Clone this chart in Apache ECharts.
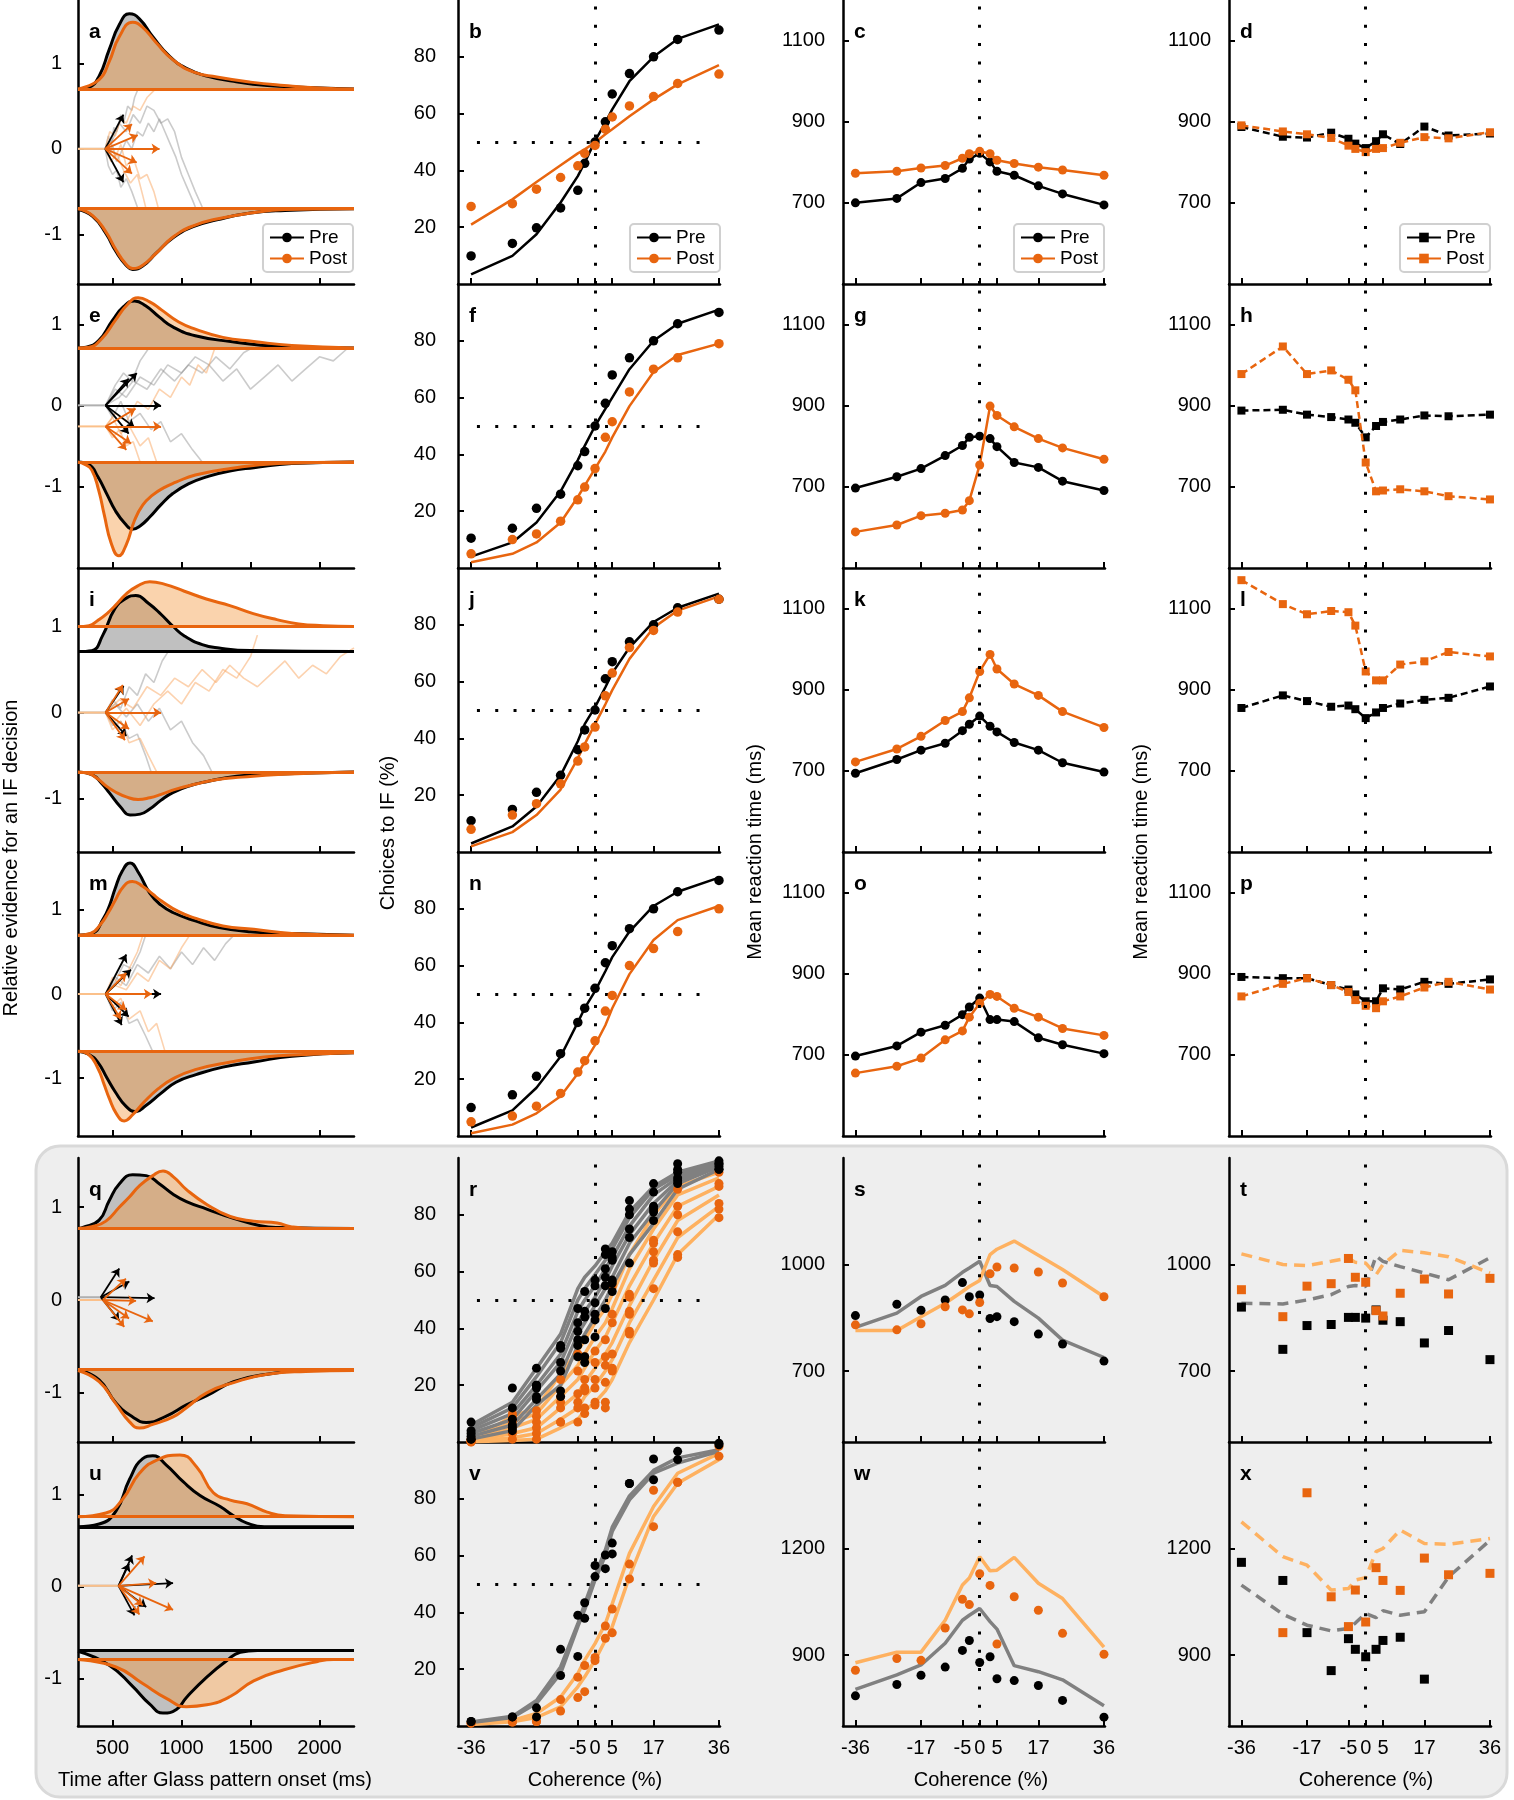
<!DOCTYPE html>
<html><head><meta charset="utf-8">
<script src="https://cdn.jsdelivr.net/npm/echarts@6/dist/echarts.min.js"></script>
<style>html,body{margin:0;padding:0;background:#fff}#chart{width:1514px;height:1800px}</style>
</head><body><div id="chart"></div>
<script>
// ---------------- DATA ----------------
const COH = [-36,-24,-17,-10,-5,-3,0,3,5,10,17,24,36];
const COH_TICKS = [-36,-17,-5,0,5,17,36];
const TIME_TICKS = [500,1000,1500,2000];
const EV_TICKS = [-1,0,1];
const CHOICE_TICKS = [20,40,60,80];
const RT_TICKS_TOP = [700,900,1100];
const RT_TICKS_S = [700,1000];
const RT_TICKS_W = [900,1200];

// Panel b
const bPreDots = [9.9,14.3,19.8,26.8,33,42.5,50,57.1,66.9,74.1,80,86.1,89.4];
const bPostDots = [27.3,28.3,33.4,37.5,41.6,46,48.8,54.5,58.8,62.7,66,70.6,73.9];
const bPreFit = [3.4,9.9,17.5,28.7,38,42.7,50.4,56.8,61.5,71.4,80,86.3,91.4];
const bPostFit = [20.9,29.8,35.9,41.8,46,47.4,49.8,52.7,54.5,59.1,65,70.3,77.1];
// Panel f
const fPreDots = [10.5,14,21,26,36,41,50,58,68,74,80,86,90];
const fPostDots = [5,10,12,16.5,24,28.5,35,46,51.5,62,70,74,79];
const fPreFit = [4,9,16,27,38,43,50,56,60,70,80,86,91];
const fPostFit = [2,5,9,16,25,29,35,41,46,57,69,75,79];
// Panel j
const jPreDots = [11,15,21,27,36,43,50,61,67,74,80,86,89];
const jPostDots = [8,13,17,24,32,37,44,55,63,72,78,84.5,89];
const jPreFit = [3,9,16,27,39,45,51,58,63,72,81,86,91];
const jPostFit = [2,7,13,22,33,38,45,52,57,68,79,85,90];
// Panel n
const nPreDots = [10,14.5,21,29,40,45,52,61,67,73,80,86,90];
const nPostDots = [5,7,10.5,15,22.5,26.5,33.5,44,49.5,60,66,72,80];
const nPreFit = [3,9,17,28,40,45,51,58,63,72,81,86,91];
const nPostFit = [1,4,8,14,22,26,32,39,45,57,69,76,81];

// RT panels (mean reaction time)
const cPre = [700,711,750,760,785,808,822,801,778,768,742,722,695];
const cPost = [773,778,786,792,810,821,827,821,805,797,788,781,768];
const dPre = [887,863,861,873,858,846,835,852,869,845,888,866,871];
const dPost = [891,876,869,860,841,833,825,833,835,848,862,859,874];
const gPre = [697,725,745,777,802,822,825,819,799,760,748,714,691];
const gPost = [589,606,629,635,643,666,754,899,876,848,819,796,768];
const hPre = [888,890,878,872,866,858,822,850,860,866,876,874,878];
const hPost = [978,1046,978,987,964,938,760,689,691,694,689,677,669];
const kPre = [694,728,751,768,799,815,835,810,796,770,751,720,697];
const kPost = [722,754,785,824,846,880,945,987,951,914,886,846,807];
const lPre = [855,886,872,858,861,852,830,844,855,866,875,880,908];
const lPost = [1170,1111,1086,1094,1091,1058,945,923,923,962,970,993,982];
const oPre = [697,722,756,773,799,818,840,787,787,782,742,725,703];
const oPost = [655,672,692,737,759,793,827,849,844,815,793,765,748];
const pPre = [892,889,889,872,861,849,832,832,864,861,880,875,886];
const pPost = [844,875,889,872,855,835,821,815,832,844,866,880,861];

// Panel r (several sessions)
const rPreFit1 = [6,14,26,38,54,58,62,67,70,81,90,95,99];
const rPreFit2 = [5,12,23,35,50,54,59,64,68,79,89,94,98.5];
const rPreFit3 = [4,10,20,31,46,50,55,61,65,76,87,93,98];
const rPreFit4 = [3,8,18,28,42,46,51,57,62,73,84,92,97.5];
const rPreFit5 = [2,6,15,24,38,42,48,54,58,70,81,91,97];
const rPreFit6 = [1,4,13,20,34,38,44,50,55,66,77,89,96];
const rPostFit1 = [1,9,12,24,32,36,42,47,52,66,80,90,95];
const rPostFit2 = [0.8,7,10,20,27,31,37,42,47,61,75,87,93];
const rPostFit3 = [0.6,5,8,16,22,26,32,37,42,55,70,83,90];
const rPostFit4 = [0.4,3,5,12,17,21,26,31,35,48,64,78,87];
const rPostFit5 = [0.2,1.5,3,8,12,16,20,25,29,42,57,72,83];
const rPostFit6 = [0.1,0.5,1,5,8,11,14,18,22,35,50,66,80];
// dots per coherence level (one value per session)
const rPreDots = [[7,4,3,1,2,1],[19,12,8,6,5,4],[26,20,19,16,20,15],[34,33,28,25,18,16],[47,42,39,36,34,30],[53,46,44,36,30,28],[57,55,49,45,43,37],[68,66,61,58,55,47],[67,65,64,57,53,56],[85,82,80,75,72,63],[91,88,83,82,81,78],[98,96,95,93,92,91],[99,98,98,97,96,96]];
const rPostDots = [[1,0.5,0.3,0.2,0.1,0],[10,9,7,5,3,1],[11,9,7,5,3,1],[22,16,14,12,7,7],[31,25,17,14,12,7],[30,22,19,18,12,10],[32,28,22,19,14,13],[36,30,27,21,14,12],[55,45,42,31,26,25],[52,51,46,45,39,38],[71,70,67,64,63,54],[89,83,80,74,66,65],[95,91,90,84,82,79]];

// Panel s
const sPreDots = [856,888,871,900,949,909,914,848,853,839,804,776,728];
const sPostDots = [830,816,833,881,872,861,893,974,993,990,979,948,909];
const sPreFit = [823,863,910,941,978,990,1009,941,938,896,849,787,738];
const sPostFit = [814,814,853,891,924,938,955,1028,1043,1066,1026,986,909];
// Panel t
const tPreSq = [880,761,828,831,851,851,849,872,843,839,779,814,732];
const tPostSq = [929,853,939,946,1017,964,950,870,855,919,959,917,961];
const tPreFit = [891,889,900,915,938,941,938,1024,1009,994,976,957,1019];
const tPostFit = [1030,1000,997,1009,1018,1006,1004,971,1000,1040,1033,1022,976];

// Panel v (two sessions)
const vPreDots1 = [1.6,3.2,6.4,27,39,43.4,56.5,60.2,64.4,85.4,94,96.7,99.6];
const vPreDots2 = [1.6,3.2,3.2,17.8,24.5,37.9,52.6,55.4,60.6,85.4,86.7,93.8,99];
const vPostDots1 = [1,1.4,1.6,9.3,17.2,21.3,24.1,35.2,41.2,57,83,85.8,98.5];
const vPostDots2 = [1,1.4,1.6,5.3,10,12.1,23,30.9,32.8,51.8,70.2,85.8,95];
const vPreFit1 = [1.4,3.4,9,20.8,36,43,53,62,70,81,90,94.4,97.3];
const vPreFit2 = [1.2,3,8,18.5,35,41,51.4,60,68.5,79.6,89,92.6,96.7];
const vPostFit1 = [1,2,4.4,10.2,18.5,23.2,29,36,43,60.8,77.3,89,96];
const vPostFit2 = [0.5,1.5,3,6.7,13.8,17.3,23.2,30.2,35,52.6,73.8,85.5,93.8];
// Panel w
const wPreDots = [785,817,843,866,913,941,879,895,833,828,814,772,725];
const wPostDots = [857,890,885,976,1057,1042,1129,1096,931,1064,1026,961,902];
const wPreFit = [803,844,872,933,998,1012,1031,994,973,870,853,830,757];
const wPostFit = [878,908,908,998,1097,1117,1177,1137,1139,1175,1102,1059,922];
// Panel x
const xPreSq = [1161,1110,963,856,946,916,895,916,941,950,832,null,null];
const xPostSq = [null,963,1357,1064,980,1083,993,1146,1110,1082,1173,1126,1130];
const xPreFit = [1097,1015,984,968,975,990,1017,1005,1025,1012,1022,1120,1223];
const xPostFit = [1275,1177,1153,1083,1087,1111,1118,1191,1200,1252,1214,1212,1228];

// Evidence distributions ([time ms, relative evidence])
const aPreUp = [[250,0.70],[330,0.72],[403,0.85],[476,1.16],[549,1.45],[622,1.58],[695,1.52],[792,1.31],[914,1.08],[1036,0.94],[1183,0.85],[1378,0.79],[1622,0.74],[1866,0.72],[2250,0.70]];
const aPostUp = [[250,0.70],[403,0.81],[476,1.02],[549,1.31],[646,1.48],[719,1.42],[817,1.24],[939,1.04],[1085,0.90],[1256,0.84],[1500,0.78],[1744,0.74],[2000,0.71],[2250,0.70]];
const aPreLow = [[250,-0.71],[356,-0.79],[452,-0.99],[525,-1.20],[598,-1.36],[646,-1.41],[719,-1.37],[817,-1.22],[939,-1.04],[1085,-0.91],[1256,-0.83],[1500,-0.75],[1750,-0.72],[2250,-0.70]];
const aPostLow = [[250,-0.70],[356,-0.78],[452,-0.97],[525,-1.18],[598,-1.35],[646,-1.40],[719,-1.36],[817,-1.22],[939,-1.03],[1085,-0.90],[1256,-0.82],[1500,-0.75],[1750,-0.71],[2250,-0.70]];
const ePreUp = [[250,0.71],[310,0.72],[400,0.80],[500,1.05],[580,1.22],[660,1.29],[740,1.23],[840,1.09],[937,0.97],[1100,0.86],[1356,0.79],[1700,0.73],[2250,0.71]];
const ePostUp = [[250,0.71],[330,0.72],[420,0.82],[520,1.05],[610,1.25],[686,1.33],[770,1.28],[855,1.18],[980,1.03],[1105,0.94],[1300,0.84],[1524,0.79],[1800,0.74],[2250,0.71]];
const ePreLow = [[250,-0.70],[330,-0.73],[393,-0.88],[460,-1.10],[520,-1.30],[590,-1.46],[644,-1.53],[700,-1.49],[770,-1.38],[850,-1.23],[937,-1.09],[1050,-0.97],[1189,-0.88],[1350,-0.81],[1524,-0.77],[1800,-0.72],[2250,-0.70]];
const ePostLow = [[250,-0.70],[300,-0.73],[350,-0.80],[400,-1.05],[440,-1.35],[490,-1.70],[545,-1.86],[600,-1.72],[660,-1.42],[720,-1.23],[790,-1.11],[870,-1.02],[960,-0.95],[1100,-0.86],[1356,-0.78],[1700,-0.72],[2250,-0.70]];
const iPreUp = [[250,0.71],[350,0.72],[430,0.90],[518,1.21],[600,1.33],[669,1.36],[760,1.27],[853,1.14],[940,1.00],[1021,0.89],[1150,0.79],[1272,0.75],[1500,0.72],[2250,0.71]];
const iPostUp = [[250,1.00],[330,1.01],[393,1.07],[460,1.15],[518,1.24],[600,1.38],[680,1.47],[770,1.52],[880,1.49],[1021,1.41],[1180,1.32],[1356,1.24],[1520,1.15],[1691,1.08],[1850,1.03],[2026,1.01],[2250,1.00]];
const iPreLow = [[250,-0.69],[350,-0.72],[420,-0.82],[476,-0.93],[560,-1.10],[627,-1.19],[700,-1.18],[770,-1.12],[850,-1.02],[937,-0.93],[1060,-0.85],[1189,-0.80],[1400,-0.74],[1608,-0.72],[2250,-0.69]];
const iPostLow = [[250,-0.69],[330,-0.71],[393,-0.77],[460,-0.86],[518,-0.92],[600,-0.98],[686,-1.01],[770,-0.99],[853,-0.95],[960,-0.89],[1105,-0.83],[1250,-0.78],[1440,-0.75],[1700,-0.72],[2250,-0.69]];
const mPreUp = [[250,0.70],[350,0.72],[435,0.90],[480,1.06],[518,1.25],[570,1.46],[627,1.56],[690,1.44],[770,1.20],[850,1.06],[937,0.97],[1100,0.87],[1272,0.79],[1500,0.74],[1800,0.72],[2250,0.70]];
const mPostUp = [[250,0.70],[340,0.72],[418,0.84],[470,0.97],[518,1.11],[580,1.28],[644,1.34],[720,1.28],[790,1.19],[853,1.11],[980,0.98],[1105,0.90],[1300,0.81],[1524,0.77],[1800,0.72],[2250,0.70]];
const mPreLow = [[250,-0.68],[330,-0.72],[393,-0.81],[460,-1.00],[518,-1.16],[600,-1.34],[669,-1.40],[740,-1.33],[853,-1.18],[960,-1.05],[1105,-0.96],[1300,-0.87],[1524,-0.81],[1800,-0.74],[2250,-0.70]];
const mPostLow = [[250,-0.68],[320,-0.71],[393,-0.88],[440,-1.08],[476,-1.24],[530,-1.43],[585,-1.51],[650,-1.43],[727,-1.29],[830,-1.13],[937,-1.01],[1100,-0.90],[1356,-0.81],[1600,-0.75],[1900,-0.72],[2250,-0.70]];
const qPreUp = [[250,0.77],[281,0.78],[403,0.86],[476,1.07],[549,1.25],[646,1.35],[744,1.34],[841,1.25],[939,1.14],[1036,1.06],[1183,0.98],[1377,0.88],[1572,0.80],[1700,0.78],[2250,0.77]];
const qPostUp = [[250,0.77],[350,0.79],[452,0.85],[549,1.00],[622,1.11],[695,1.23],[792,1.34],[866,1.39],[939,1.33],[1036,1.19],[1183,1.03],[1353,0.90],[1523,0.85],[1694,0.83],[1792,0.79],[1950,0.77],[2250,0.77]];
const qPreLow = [[250,-0.75],[403,-0.86],[525,-1.11],[646,-1.26],[744,-1.32],[890,-1.25],[1036,-1.13],[1183,-1.03],[1378,-0.88],[1621,-0.80],[1900,-0.76],[2250,-0.75]];
const qPostLow = [[250,-0.76],[403,-0.88],[525,-1.12],[622,-1.31],[695,-1.38],[792,-1.34],[939,-1.26],[1036,-1.16],[1183,-1.00],[1378,-0.89],[1621,-0.80],[1900,-0.77],[2250,-0.76]];
const uPreUp = [[250,0.65],[403,0.68],[525,0.82],[622,1.16],[719,1.39],[792,1.42],[890,1.32],[1012,1.14],[1134,0.99],[1280,0.87],[1377,0.77],[1475,0.69],[1600,0.65],[2250,0.65]];
const uPostUp = [[250,0.76],[452,0.80],[573,0.95],[695,1.23],[817,1.37],[988,1.43],[1110,1.30],[1231,1.02],[1353,0.94],[1475,0.90],[1621,0.81],[1750,0.77],[2250,0.76]];
const uPreLow = [[250,-0.70],[476,-0.85],[646,-1.08],[768,-1.27],[866,-1.37],[963,-1.33],[1036,-1.20],[1183,-0.98],[1329,-0.80],[1426,-0.71],[1550,-0.69],[2250,-0.69]];
const uPostLow = [[250,-0.79],[525,-0.87],[719,-1.05],[890,-1.21],[1036,-1.30],[1183,-1.28],[1353,-1.19],[1523,-1.02],[1743,-0.90],[1987,-0.81],[2100,-0.79],[2250,-0.79]];
// Decision bounds (baselines): [pre upper, post upper, pre lower, post lower]
const aBounds = [0.70,0.70,-0.70,-0.70];
const eBounds = [0.71,0.71,-0.70,-0.70];
const iBounds = [0.71,1.00,-0.69,-0.69];
const mBounds = [0.70,0.70,-0.68,-0.68];
const qBounds = [0.77,0.77,-0.75,-0.75];
const uBounds = [0.65,0.76,-0.69,-0.79];
// Drift arrows: start points and arrow tips
const aPreStart=[447,0], aPostStart=[447,0];
const aPreArrows=[[579,0.40],[579,-0.39]];
const aPostArrows=[[641,0.29],[683,0.16],[841,0],[676,-0.16],[641,-0.29]];
const ePreStart=[450,0], ePostStart=[450,-0.26];
const ePreArrows=[[676,0.40],[617,0.33],[852,0],[659,-0.27],[617,-0.35]];
const ePostArrows=[[667,-0.04],[852,-0.26],[634,-0.47],[600,-0.55]];
const iPreStart=[450,0], iPostStart=[450,0];
const iPreArrows=[[580,0.31],[600,-0.27]];
const iPostArrows=[[575,0.32],[620,0.16],[852,0],[620,-0.19],[590,-0.32]];
const mPreStart=[450,0], mPostStart=[450,0];
const mPreArrows=[[600,0.47],[634,0.29],[852,0],[617,-0.27],[567,-0.37]];
const mPostArrows=[[600,0.25],[785,0],[600,-0.19],[560,-0.30]];
const qPreStart=[415,0.03], qPostStart=[430,0];
const qPreArrows=[[549,0.34],[622,0.20],[805,0.02],[549,-0.22]];
const qPostArrows=[[597,0.23],[671,-0.01],[792,-0.23],[585,-0.29],[620,-0.20]];
const uPreStart=[544,0.01], uPostStart=[544,0.01];
const uPreArrows=[[642,0.34],[939,0.04],[659,-0.31],[744,-0.22],[620,0.25]];
const uPostArrows=[[732,0.33],[817,0.04],[939,-0.25],[695,-0.30],[720,-0.20]];
// Example single-trial evidence traces
const aTracesPre = [
  [[447,0],[470,0.15],[490,0.05],[510,0.25],[530,0.2],[560,0.4],[580,0.3],[610,0.5],[640,0.45],[660,0.6],[680,0.68]],
  [[447,0],[480,-0.1],[500,0.05],[530,-0.15],[560,-0.05],[600,0.1],[640,0.0],[680,0.2],[720,0.15],[760,0.3],[800,0.2],[840,0.35],[880,0.2],[920,0.05],[960,-0.1],[1000,-0.3],[1040,-0.45],[1080,-0.6],[1100,-0.68]],
  [[447,0],[470,-0.2],[500,-0.3],[530,-0.25],[560,-0.45],[600,-0.35],[640,-0.5],[680,-0.68]],
  [[447,0],[500,0.1],[550,0.3],[600,0.2],[650,0.4],[700,0.3],[750,0.5],[800,0.45],[850,0.3],[900,0.35],[950,0.2],[1000,-0.1],[1050,-0.3],[1100,-0.5],[1150,-0.68]]];
const aTracesPost = [
  [[447,0],[480,0.1],[520,-0.1],[560,0.05],[600,-0.2],[650,-0.1],[700,-0.35],[750,-0.3],[800,-0.5],[830,-0.68]],
  [[447,0],[480,0.2],[520,0.15],[560,0.35],[600,0.3],[650,0.5],[700,0.45],[750,0.6],[800,0.68]],
  [[447,0],[490,-0.15],[530,-0.05],[580,-0.25],[630,-0.4],[680,-0.3],[720,-0.55],[740,-0.68]]];
const eTracesPre = [
  [[450,0],[520,0.2],[600,0.1],[700,0.35],[800,0.25],[900,0.5],[1000,0.4],[1100,0.6],[1200,0.5],[1300,0.3],[1400,0.45],[1500,0.2],[1600,0.35],[1700,0.5],[1800,0.3],[1900,0.45],[2000,0.6],[2100,0.55],[2200,0.7]],
  [[450,0],[500,-0.15],[560,0.05],[620,-0.2],[700,-0.1],[780,-0.3],[850,-0.2],[920,-0.45],[1000,-0.35],[1080,-0.55],[1150,-0.7]],
  [[450,0],[520,0.25],[580,0.4],[640,0.3],[700,0.55],[760,0.7]],
  [[450,0],[550,0.1],[650,0.3],[750,0.2],[850,0.45],[950,0.3],[1050,0.5],[1150,0.4],[1250,0.6],[1350,0.45],[1450,0.65],[1500,0.7]]];
const eTracesPost = [
  [[450,-0.26],[500,-0.4],[550,-0.3],[600,-0.5],[650,-0.45],[700,-0.7]],
  [[450,-0.26],[520,-0.1],[600,-0.2],[680,0.05],[760,-0.05],[840,0.2],[920,0.1],[1000,0.35],[1060,0.25],[1120,0.5],[1180,0.4],[1240,0.7]],
  [[450,-0.26],[500,-0.15],[560,-0.35],[620,-0.25],[700,-0.5],[760,-0.4],[820,-0.7]]];
const iTracesPre = [
  [[450,0],[500,0.15],[560,0.05],[620,0.3],[680,0.2],[740,0.45],[800,0.35],[860,0.6],[900,0.7]],
  [[450,0],[500,-0.15],[560,-0.1],[620,-0.3],[680,-0.25],[740,-0.5],[780,-0.69]],
  [[450,0],[520,0.1],[600,-0.05],[680,0.1],[760,-0.1],[840,0.05],[920,-0.2],[1000,-0.1],[1080,-0.35],[1160,-0.5],[1220,-0.69]]];
const iTracesPost = [
  [[450,0],[550,0.15],[650,0.05],[750,0.3],[850,0.2],[950,0.4],[1050,0.3],[1150,0.5],[1250,0.35],[1350,0.55],[1450,0.4],[1550,0.3],[1650,0.45],[1750,0.6],[1850,0.4],[1950,0.55],[2050,0.45],[2150,0.65],[2250,0.75]],
  [[450,0],[520,-0.1],[600,0.05],[700,-0.15],[800,0.1],[900,0.25],[1000,0.1],[1100,0.35],[1200,0.25],[1300,0.5],[1400,0.4],[1500,0.65],[1550,0.9]],
  [[450,0],[500,-0.2],[560,-0.1],[620,-0.35],[700,-0.3],[760,-0.5],[820,-0.69]]];
const mTracesPre = [
  [[450,0],[520,0.2],[600,0.1],[680,0.35],[760,0.25],[840,0.45],[920,0.3],[1000,0.5],[1080,0.35],[1160,0.55],[1240,0.4],[1320,0.6],[1380,0.7]],
  [[450,0],[500,-0.2],[560,-0.1],[620,-0.35],[680,-0.3],[740,-0.5],[790,-0.68]],
  [[450,0],[520,0.15],[580,0.35],[640,0.3],[700,0.5],[740,0.7]]];
const mTracesPost = [
  [[450,0],[500,-0.15],[560,-0.05],[620,-0.3],[700,-0.2],[760,-0.45],[820,-0.35],[880,-0.68]],
  [[450,0],[520,0.1],[600,0.05],[680,0.25],[760,0.15],[840,0.4],[920,0.3],[1000,0.55],[1060,0.7]],
  [[450,0],[500,0.2],[560,0.1],[620,0.3],[680,0.5],[720,0.7]]];

// ---------------- LAYOUT / STYLE ----------------
const FONT = "'Liberation Sans', Arial, Helvetica, sans-serif";
const BLACK='#000000', ORANGE='#e8650f', LORANGE='#feb160', GRAY='#808080';
const GRAYFILL='#c0c0c0', ORFILL='rgba(244,150,60,0.42)';
const TOPS=[0,284,568,852,1158,1442], H=284;
const COLS=[{l:78,w:276,min:250,max:2250},{l:458,w:262,min:-39.8,max:36.3},{l:843,w:262,min:-39.6,max:36.3},{l:1229,w:262,min:-39.6,max:36.3}];
const EV_RANGE=[[-1.58,1.74],[-2.01,1.5],[-1.62,1.68],[-1.69,1.69],[-1.53,1.53],[-1.51,1.57]];
const RT_RANGE=[[500,1200],[500,1200],[500,1200],[500,1200],[500,1300],[700,1500]];
const RT_TICKS=[RT_TICKS_TOP,RT_TICKS_TOP,RT_TICKS_TOP,RT_TICKS_TOP,RT_TICKS_S,RT_TICKS_W];

const grids=[], xAxes=[], yAxes=[], S=[];
for(let r=0;r<6;r++) for(let c=0;c<4;c++){
  const i=r*4+c;
  grids.push({left:COLS[c].l, top:TOPS[r], width:COLS[c].w, height:H, show:false});
  const xt = c===0?TIME_TICKS:COH_TICKS;
  xAxes.push({gridIndex:i, type:'value', min:COLS[c].min, max:COLS[c].max,
    axisLine:{show:true,onZero:false,lineStyle:{color:'#000',width:2.5}},
    axisTick:{show:true,inside:true,length:6,customValues:xt,lineStyle:{color:'#000',width:2}},
    axisLabel:{show:r===5,customValues:xt,fontSize:20,color:'#000',fontFamily:FONT,margin:12,formatter:v=>String(v)},
    splitLine:{show:false}});
  let ymin,ymax,yt,mg;
  if(c===0){ymin=EV_RANGE[r][0];ymax=EV_RANGE[r][1];yt=EV_TICKS;mg=16;}
  else if(c===1){ymin=0;ymax=100;yt=CHOICE_TICKS;mg=22;}
  else {ymin=RT_RANGE[r][0];ymax=RT_RANGE[r][1];yt=RT_TICKS[r];mg=18;}
  yAxes.push({gridIndex:i, type:'value', min:ymin, max:ymax,
    axisLine:{show:true,onZero:false,lineStyle:{color:'#000',width:2.5}},
    axisTick:{show:true,inside:true,length:6,customValues:yt,lineStyle:{color:'#000',width:2}},
    axisLabel:{show:true,customValues:yt,fontSize:20,color:'#000',fontFamily:FONT,margin:mg,formatter:v=>String(v)},
    splitLine:{show:false}});
}
const pts = v => COH.map((c,k)=>[c, v[k]]);
const ax = i => ({xAxisIndex:i, yAxisIndex:i, silent:true, animation:false});
const DOT = {color:'#000',width:3,type:[3,15.3],cap:'butt'};
function refLines(withH){
  const data=[{xAxis:0}];
  if(withH) data.push([{coord:[-34.3,50]},{coord:[33.3,50]}]);
  return {symbol:'none', silent:true, label:{show:false}, lineStyle:DOT, emphasis:{disabled:true}, data};
}
function fitLine(i, vals, color, width, dash, extra){
  return Object.assign({type:'line', ...ax(i), data:pts(vals), symbol:'none', showSymbol:false,
    lineStyle:{color, width, type:dash||'solid'}, itemStyle:{color}, z:3}, extra||{});
}
function dots(i, data, color, sym, size){
  return {type:'scatter', ...ax(i), data, symbol:sym, symbolSize:size, itemStyle:{color, opacity:1}, z:5};
}

// ---- Column 2, rows 1-4: choice fits + dots
[[bPreDots,bPostDots,bPreFit,bPostFit],[fPreDots,fPostDots,fPreFit,fPostFit],[jPreDots,jPostDots,jPreFit,jPostFit],[nPreDots,nPostDots,nPreFit,nPostFit]].forEach((d,r)=>{
  const i=r*4+1;
  S.push(fitLine(i,d[2],BLACK,2.5,null,{markLine:refLines(true)}));
  S.push(fitLine(i,d[3],ORANGE,2.5));
  S.push(dots(i,pts(d[0]),BLACK,'circle',9.5));
  S.push(dots(i,pts(d[1]),ORANGE,'circle',9.5));
});
// ---- Column 3, rows 1-4: RT with circles
[[cPre,cPost],[gPre,gPost],[kPre,kPost],[oPre,oPost]].forEach((d,r)=>{
  const i=r*4+2;
  S.push({type:'line', ...ax(i), name:r===0?'Pre':'', data:pts(d[0]), symbol:'circle', symbolSize:9, showSymbol:true,
    lineStyle:{color:BLACK,width:2.5}, itemStyle:{color:BLACK}, z:3, markLine:refLines(false)});
  S.push({type:'line', ...ax(i), name:r===0?'Post':'', data:pts(d[1]), symbol:'circle', symbolSize:9, showSymbol:true,
    lineStyle:{color:ORANGE,width:2.5}, itemStyle:{color:ORANGE}, z:4});
});
// ---- Column 4, rows 1-4: RT with squares, dashed
[[dPre,dPost],[hPre,hPost],[lPre,lPost],[pPre,pPost]].forEach((d,r)=>{
  const i=r*4+3;
  S.push({type:'line', ...ax(i), name:r===0?'Pre ':'', data:pts(d[0]), symbol:'rect', symbolSize:8, showSymbol:true,
    lineStyle:{color:BLACK,width:2.5,type:[7,4]}, itemStyle:{color:BLACK}, z:3, markLine:refLines(false)});
  S.push({type:'line', ...ax(i), name:r===0?'Post ':'', data:pts(d[1]), symbol:'rect', symbolSize:8, showSymbol:true,
    lineStyle:{color:ORANGE,width:2.5,type:[7,4]}, itemStyle:{color:ORANGE}, z:4});
});
// ---- Panel r
(function(){
  const i=4*4+1;
  const gl=[rPreFit1,rPreFit2,rPreFit3,rPreFit4,rPreFit5,rPreFit6];
  const ol=[rPostFit1,rPostFit2,rPostFit3,rPostFit4,rPostFit5,rPostFit6];
  ol.forEach((v,k)=>S.push(fitLine(i,v,LORANGE,3.5,null,k===0?{markLine:refLines(true)}:{})));
  gl.forEach(v=>S.push(fitLine(i,v,GRAY,3.5)));
  const bd=[], od=[];
  COH.forEach((c,k)=>{ rPreDots[k].forEach(v=>bd.push([c,v])); rPostDots[k].forEach(v=>od.push([c,v])); });
  S.push(dots(i,od,ORANGE,'circle',9));
  S.push(dots(i,bd,BLACK,'circle',9));
})();
// ---- Panel v
(function(){
  const i=5*4+1;
  S.push(fitLine(i,vPostFit1,LORANGE,3.5,null,{markLine:refLines(true)}));
  S.push(fitLine(i,vPostFit2,LORANGE,3.5));
  S.push(fitLine(i,vPreFit1,GRAY,3.5));
  S.push(fitLine(i,vPreFit2,GRAY,3.5));
  S.push(dots(i,pts(vPostDots1),ORANGE,'circle',9));
  S.push(dots(i,pts(vPostDots2),ORANGE,'circle',9));
  S.push(dots(i,pts(vPreDots1),BLACK,'circle',9));
  S.push(dots(i,pts(vPreDots2),BLACK,'circle',9));
})();
// ---- Panels s, w
[[4,sPreDots,sPostDots,sPreFit,sPostFit],[5,wPreDots,wPostDots,wPreFit,wPostFit]].forEach(d=>{
  const i=d[0]*4+2;
  S.push(fitLine(i,d[3],GRAY,3.5,null,{markLine:refLines(false)}));
  S.push(fitLine(i,d[4],LORANGE,3.5));
  S.push(dots(i,pts(d[1]),BLACK,'circle',9));
  S.push(dots(i,pts(d[2]),ORANGE,'circle',9));
});
// ---- Panels t, x
[[4,tPreSq,tPostSq,tPreFit,tPostFit],[5,xPreSq,xPostSq,xPreFit,xPostFit]].forEach(d=>{
  const i=d[0]*4+3;
  S.push(fitLine(i,d[3],GRAY,3.5,[11,7],{markLine:refLines(false)}));
  S.push(fitLine(i,d[4],LORANGE,3.5,[11,7]));
  S.push(dots(i,pts(d[1]),BLACK,'rect',9));
  S.push(dots(i,pts(d[2]),ORANGE,'rect',9));
});
// ---- Column 1: evidence distributions
const EV_ROWS=[
  [aPreUp,aPostUp,aPreLow,aPostLow,aBounds,aPreStart,aPostStart,aPreArrows,aPostArrows,aTracesPre,aTracesPost],
  [ePreUp,ePostUp,ePreLow,ePostLow,eBounds,ePreStart,ePostStart,ePreArrows,ePostArrows,eTracesPre,eTracesPost],
  [iPreUp,iPostUp,iPreLow,iPostLow,iBounds,iPreStart,iPostStart,iPreArrows,iPostArrows,iTracesPre,iTracesPost],
  [mPreUp,mPostUp,mPreLow,mPostLow,mBounds,mPreStart,mPostStart,mPreArrows,mPostArrows,mTracesPre,mTracesPost],
  [qPreUp,qPostUp,qPreLow,qPostLow,qBounds,qPreStart,qPostStart,qPreArrows,qPostArrows,[],[]],
  [uPreUp,uPostUp,uPreLow,uPostLow,uBounds,uPreStart,uPostStart,uPreArrows,uPostArrows,[],[]]
];
EV_ROWS.forEach((d,r)=>{
  const i=r*4;
  const B=d[4];
  // traces (faint)
  d[9].forEach(tr=>S.push({type:'line',...ax(i),data:tr,symbol:'none',lineStyle:{color:'rgba(140,140,140,0.45)',width:1.6},z:1}));
  d[10].forEach(tr=>S.push({type:'line',...ax(i),data:tr,symbol:'none',lineStyle:{color:'rgba(250,165,95,0.5)',width:1.6},z:1}));
  const area=(data,fill,origin)=>({type:'line',...ax(i),data,smooth:0.5,symbol:'none',showSymbol:false,
    lineStyle:{width:0,opacity:0},areaStyle:{color:fill,origin:origin,opacity:1},z:2});
  const curve=(data,color,base)=>({type:'line',...ax(i),data,smooth:0.5,symbol:'none',showSymbol:false,
    lineStyle:{color,width:3},itemStyle:{color},z:3,
    markLine:{symbol:'none',silent:true,label:{show:false},emphasis:{disabled:true},lineStyle:{color,width:3,type:'solid'},data:[{yAxis:base}]}});
  S.push(area(d[0],GRAYFILL,B[0]));
  S.push(area(d[2],GRAYFILL,B[2]));
  S.push(area(d[1],ORFILL,B[1]));
  S.push(area(d[3],ORFILL,B[3]));
  S.push(curve(d[0],BLACK,B[0]));
  S.push(curve(d[2],BLACK,B[2]));
  S.push(curve(d[1],ORANGE,B[1]));
  S.push(curve(d[3],ORANGE,B[3]));
  // lead-in lines before drift onset
  S.push({type:'line',...ax(i),data:[[250,d[5][1]],d[5]],symbol:'none',lineStyle:{color:'#b0b0b0',width:2},z:3});
  S.push({type:'line',...ax(i),data:[[250,d[6][1]],d[6]],symbol:'none',lineStyle:{color:'#fbc08a',width:2},z:3});
  // drift arrows
  S.push({type:'lines',coordinateSystem:'cartesian2d',...ax(i),symbol:['none','arrow'],symbolSize:8,
    lineStyle:{color:BLACK,width:1.8,opacity:1},data:d[7].map(e=>({coords:[d[5],e]})),z:4});
  S.push({type:'lines',coordinateSystem:'cartesian2d',...ax(i),symbol:['none','arrow'],symbolSize:8,
    lineStyle:{color:ORANGE,width:1.8,opacity:1},data:d[8].map(e=>({coords:[d[6],e]})),z:4});
});

// ---------------- GRAPHICS (texts, box) ----------------
const graphics=[];
graphics.push({type:'rect',z:-10,silent:true,shape:{x:36,y:1146,width:1471,height:651,r:24},
  style:{fill:'#eeeeee',stroke:'#d9d9d9',lineWidth:3}});
const LETTERS='abcdefghijklmnopqrstuvwx';
for(let r=0;r<6;r++) for(let c=0;c<4;c++){
  graphics.push({type:'text',z:100,silent:true,x:COLS[c].l+11,y:TOPS[r]+32,
    style:{text:LETTERS[r*4+c],fontSize:21,fontWeight:'bold',fontFamily:FONT,fill:'#000',align:'left',verticalAlign:'middle'}});
}
const T=(text,x,y,rot)=>({type:'text',z:100,silent:true,x,y,rotation:rot||0,
  style:{text,fontSize:20,fontFamily:FONT,fill:'#000',align:'center',verticalAlign:'middle'}});
graphics.push(T('Time after Glass pattern onset (ms)',215,1780));
graphics.push(T('Coherence (%)',595,1780));
graphics.push(T('Coherence (%)',981,1780));
graphics.push(T('Coherence (%)',1366,1780));
graphics.push(T('Relative evidence for an IF decision',11,858,Math.PI/2));
graphics.push(T('Choices to IF (%)',388,833,Math.PI/2));
graphics.push(T('Mean reaction time (ms)',755,852,Math.PI/2));
graphics.push(T('Mean reaction time (ms)',1141,852,Math.PI/2));

const LEG={orient:'vertical',top:224,itemWidth:34,itemHeight:12,itemGap:2,padding:[4,6,4,6],
  borderColor:'#d0d0d0',borderWidth:2,borderRadius:4,backgroundColor:'#fff',selectedMode:false,
  textStyle:{fontSize:19,color:'#000',fontFamily:FONT}};
const legends=[
  Object.assign({},LEG,{data:['Pre','Post'],right:1161}),
  Object.assign({},LEG,{data:['Pre','Post'],right:794}),
  Object.assign({},LEG,{data:['Pre','Post'],right:410}),
  Object.assign({},LEG,{data:['Pre ','Post '],right:24,formatter:n=>n.trim(),lineStyle:{type:'solid'}})
];

const chart=echarts.init(document.getElementById('chart'),null,{renderer:'canvas',width:1514,height:1800});
chart.setOption({animation:false,backgroundColor:'#ffffff',textStyle:{fontFamily:FONT},
  grid:grids,xAxis:xAxes,yAxis:yAxes,series:S,legend:legends,graphic:graphics});
</script></body></html>
